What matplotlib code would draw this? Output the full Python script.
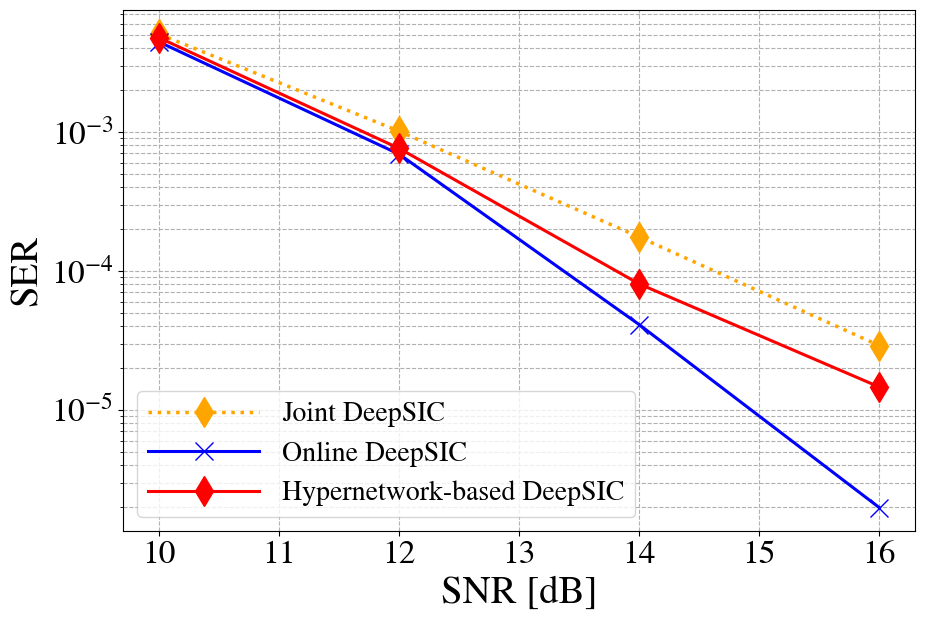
import matplotlib
matplotlib.use("Agg")
import matplotlib.pyplot as plt

snr = [10, 12, 14, 16]
joint = [5.05e-3, 1.01e-3, 1.75e-4, 2.9e-5]
online = [4.43e-3, 6.9e-4, 4.1e-5, 1.98e-6]
hyper = [4.75e-3, 7.6e-4, 8.05e-5, 1.46e-5]
labels = ["Joint DeepSIC", "Online DeepSIC", "Hypernetwork-based DeepSIC"]

plt.rcParams['font.family'] = ['STIXGeneral', 'DejaVu Serif']
plt.rcParams['mathtext.fontset'] = 'stix'

fig = plt.figure(figsize=(9.25, 6.2), dpi=100)
ax = fig.add_axes([0.1333, 0.1431, 0.8562, 0.84])

ax.plot(snr, joint, linestyle=':', color='orange', marker='d', markersize=15, linewidth=2.5, label=labels[0])
ax.plot(snr, online, linestyle='-', color='blue', marker='x', markersize=13, linewidth=2.2, label=labels[1])
ax.plot(snr, hyper, linestyle='-', color='red', marker='d', markersize=15, linewidth=2.2, label=labels[2])

ax.set_yscale('log')
ax.grid(True, which='both', linestyle='--', color='#b0b0b0', linewidth=0.8)
ax.set_xlabel('SNR [dB]', fontsize=28)
ax.set_ylabel('SER', fontsize=28)
ax.tick_params(axis='both', which='major', labelsize=24)
ax.legend(loc='lower left', fontsize=20, handlelength=4.0)

fig.savefig('out.png', dpi=100)
